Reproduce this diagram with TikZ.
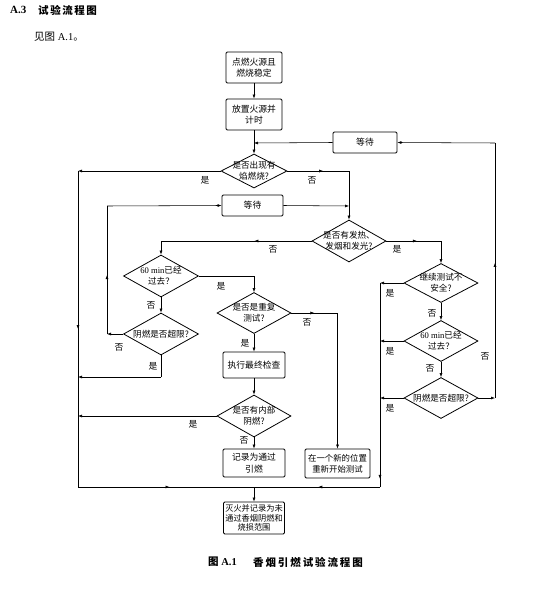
\documentclass[tikz,border=0pt]{standalone}
\usepackage{fontspec}
\setmainfont{Liberation Serif}
\newfontfamily\cjk{Noto Sans CJK SC}
\usetikzlibrary{arrows.meta,decorations.markings,shapes.geometric}
\begin{document}
\begin{tikzpicture}[x=1pt,y=-1pt,
 box/.style={draw,line width=0.9pt,rounded corners=1.2pt,align=center,inner sep=0pt,font=\cjk\fontsize{8.8}{11.5}\selectfont},
 dia/.style={draw,diamond,line width=0.8pt,inner sep=0pt,minimum width=74pt,minimum height=41pt},
 dtxt/.style={align=center,inner sep=0pt,font=\cjk\fontsize{8.6}{11}\selectfont},
 lab/.style={inner sep=0pt,font=\cjk\fontsize{8.8}{10}\selectfont},
 ln/.style={line width=0.55pt},
 ar/.style={ln,-{Latex[length=4pt,width=3pt]}},
 arrat/.style={ln,postaction={decorate},decoration={markings,mark=at position #1 with {\arrow{Latex[length=4pt,width=3pt]}}}},
]
\useasboundingbox (0,0) rectangle (554,596);

% header
\node[anchor=west,inner sep=0pt,font=\bfseries\fontsize{11}{11}\selectfont] (h1) at (10,10) {A.3};
\node[anchor=west,inner sep=0pt,font=\cjk\bfseries\fontsize{10.5}{11}\selectfont] (h2) at (38,10) {\addfontfeature{LetterSpace=15}试验流程图};
\node[anchor=west,inner sep=0pt,font=\fontsize{10.5}{11}\selectfont] (h3) at (34,37) {{\cjk 见图} A.1{\cjk 。}};

% boxes
\node[box,minimum width=56pt,minimum height=31pt] (b1) at (254,67.5) {点燃火源且\\燃烧稳定};
\node[box,minimum width=56pt,minimum height=31pt] (b2) at (254,114.5) {放置火源并\\计时};
\node[box,minimum width=64pt,minimum height=21pt] (w1) at (365,142.5) {等待};
\node[box,minimum width=61pt,minimum height=21pt] (w2) at (252.5,205.5) {等待};
\node[box,minimum width=62pt,minimum height=26pt] (b3) at (254,365) {执行最终检查};
\node[box,minimum width=62pt,minimum height=28pt] (b4) at (254,463) {记录为通过\\引燃};
\node[box,minimum width=65pt,minimum height=29pt,font=\cjk\fontsize{8.4}{11}\selectfont] (b5) at (337.5,463.5) {在一个新的位置\\重新开始测试};
\node[box,minimum width=61pt,minimum height=32pt,font=\cjk\fontsize{8.2}{9.8}\selectfont] (b6) at (254,518) {灭火并记录为未\\通过香烟阴燃和\\烧损范围};

% diamonds
\node[dia,minimum width=66pt,minimum height=34pt,label={[dtxt]center:{是否出现有\\焰燃烧?}}] (d1) at (254,171) {};
\node[dia,minimum height=42pt,label={[dtxt]center:{是否有发热、\\发烟和发光?}}] (d2) at (349,241) {};
\node[dia,minimum width=75pt,minimum height=42pt,label={[dtxt]center:{{\rmfamily 60 min}已经\\过去？}}] (d5) at (161,276) {};
\node[dia,minimum width=75pt,minimum height=42pt,label={[dtxt]center:{阴燃是否超限?}}] (d7) at (161,334) {};
\node[dia,label={[dtxt]center:{是否是重复\\测试?}}] (d6) at (254,313) {};
\node[dia,minimum height=42pt,label={[dtxt]center:{是否有内部\\阴燃?}}] (d8) at (254,416) {};
\node[dia,minimum height=39pt,label={[dtxt]center:{继续测试不\\安全?}}] (d4) at (441,283) {};
\node[dia,label={[dtxt]center:{{\rmfamily 60 min}已经\\过去？}}] (d9) at (441,341) {};
\node[dia,label={[dtxt]center:{阴燃是否超限?}}] (d10) at (441,398) {};

% coordinates
\coordinate (j1) at (254,143);
\coordinate (c1) at (78,171);
\coordinate (c2) at (78,487);
\coordinate (c3) at (254,487);
\coordinate (c4) at (349,171);
\coordinate (c5) at (349,206);
\coordinate (c6) at (161,241);
\coordinate (c7) at (441,241);
\coordinate (c8) at (254,276);
\coordinate (c9) at (107,334);
\coordinate (c10) at (107,206);
\coordinate (c11) at (161,377);
\coordinate (c12) at (78,377);
\coordinate (c13) at (337.5,313);
\coordinate (c14) at (78,416);
\coordinate (c15) at (380,283);
\coordinate (c16) at (380,341);
\coordinate (c17) at (380,398);
\coordinate (c18) at (495,398);
\coordinate (c19) at (495,143);
\coordinate (c20) at (380,487);

% connectors
\draw[ar] (b1) -- (b2);
\draw[ln] (b2) -- (j1);
\draw[ar] (j1) -- (d1.north);
\draw[ar] (w1.west) -- (j1);
\draw[ar] (d1.west) -- (c1);
\draw[arrat=0.5] (c1) -- (c2);
\draw[arrat=0.52] (c2) -- (c3);
\draw[ar] (c3) -- (b6.north);
\draw[arrat=0.58] (d1.east) -- (c4);
\draw[ar] (c4) -- (d2.north);
\draw[ar] (w2.east) -- (c5);
\draw[arrat=0.38] (d2.west) -- (c6);
\draw[ar] (c6) -- (d5.north);
\draw[arrat=0.56] (d2.east) -- (c7);
\draw[ar] (c7) -- (d4.north);
\draw[ln] (d5.east) -- (c8);
\draw[ar] (c8) -- (d6.north);
\draw[ar] (d5.south) -- (d7.north);
\draw[ar] (d7.west) -- (c9);
\draw[arrat=0.46] (c9) -- (c10);
\draw[ar] (c10) -- (w2.west);
\draw[ln] (d7.south) -- (c11);
\draw[ar] (c11) -- (c12);
\draw[arrat=0.5] (d6.east) -- (c13);
\draw[ar] (c13) -- (b5.north);
\draw[ar] (d6.south) -- (b3.north);
\draw[ar] (b3.south) -- (d8.north);
\draw[ar] (d8.west) -- (c14);
\draw[ar] (d8.south) -- (b4.north);
\draw[ar] (d4.west) -- (c15);
\draw[ar] (d4.south) -- (d9.north);
\draw[ar] (d9.west) -- (c16);
\draw[ar] (d9.south) -- (d10.north);
\draw[ar] (d10.west) -- (c17);
\draw[ar] (d10.east) -- (c18);
\draw[arrat=0.53] (c18) -- (c19);
\draw[ar] (c19) -- (w1.east);
\draw[arrat=0.96] (c15) -- (c20);
\draw[arrat=0.49] (c20) -- (c3);

% labels
\node[lab] (l1) at (205,180) {是};
\node[lab] (l2) at (312,180) {否};
\node[lab] (l3) at (273,249) {否};
\node[lab] (l4) at (397,249) {是};
\node[lab] (l5) at (221,286) {是};
\node[lab] (l6) at (151,305) {否};
\node[lab] (l7) at (119,347) {否};
\node[lab] (l8) at (153,366) {是};
\node[lab] (l9) at (307,322) {否};
\node[lab] (l10) at (245,343) {是};
\node[lab] (l11) at (193,424) {是};
\node[lab] (l12) at (244,440) {否};
\node[lab] (l13) at (390,293) {是};
\node[lab] (l14) at (432,313) {否};
\node[lab] (l15) at (390,351) {是};
\node[lab] (l16) at (430,368) {否};
\node[lab] (l17) at (390,408) {是};
\node[lab] (l18) at (485,356) {否};

% caption
\node[anchor=west,inner sep=0pt,font=\bfseries\fontsize{10.5}{11}\selectfont] (cap1) at (208,562) {{\cjk 图} A.1};
\node[anchor=west,inner sep=0pt,font=\cjk\bfseries\fontsize{10.5}{11}\selectfont] (cap2) at (253,562) {\addfontfeature{LetterSpace=18}香烟引燃试验流程图};
\end{tikzpicture}
\end{document}
